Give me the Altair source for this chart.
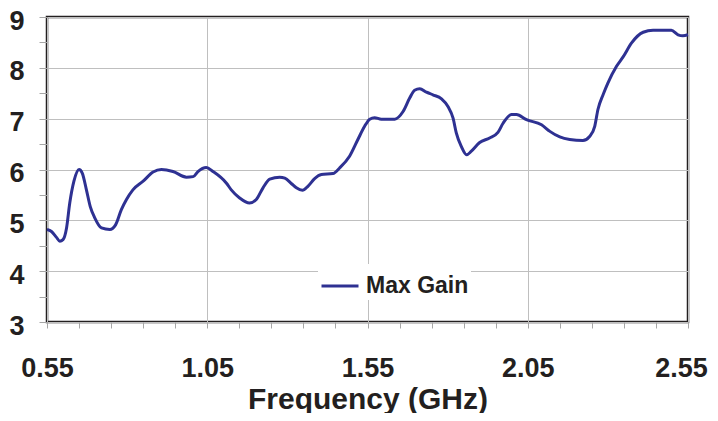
import altair as alt
import pandas as pd

freq = [0.550, 0.564, 0.579, 0.590, 0.600, 0.611, 0.621, 0.634, 0.650, 0.660,
        0.673, 0.685, 0.699, 0.720, 0.746, 0.764, 0.782, 0.798, 0.818, 0.850,
        0.881, 0.907, 0.943, 0.985, 1.006, 1.021, 1.047, 1.068, 1.110, 1.125,
        1.151, 1.182, 1.203, 1.224, 1.245, 1.276, 1.292, 1.313, 1.328, 1.347,
        1.364, 1.385, 1.406, 1.442, 1.463, 1.494, 1.520, 1.541, 1.557, 1.572,
        1.593, 1.635, 1.661, 1.682, 1.697, 1.713, 1.734, 1.754, 1.781, 1.801,
        1.817, 1.827, 1.843, 1.859, 1.874, 1.900, 1.931, 1.957, 1.973, 1.999,
        2.015, 2.046, 2.093, 2.119, 2.150, 2.181, 2.222, 2.243, 2.259, 2.269,
        2.285, 2.300, 2.327, 2.348, 2.374, 2.410, 2.441, 2.498, 2.519, 2.534,
        2.550]
gain = [4.82, 4.78, 4.67, 4.59, 4.62, 4.85, 5.34, 5.77, 6.00, 5.93,
        5.60, 5.27, 5.05, 4.85, 4.82, 4.91, 5.21, 5.41, 5.60, 5.77,
        5.95, 6.00, 5.96, 5.85, 5.86, 5.96, 6.04, 5.96, 5.73, 5.60,
        5.44, 5.34, 5.41, 5.64, 5.81, 5.85, 5.83, 5.72, 5.64, 5.59,
        5.67, 5.82, 5.90, 5.92, 6.03, 6.26, 6.59, 6.85, 6.99, 7.02,
        6.99, 6.99, 7.14, 7.41, 7.56, 7.59, 7.52, 7.47, 7.39, 7.24,
        7.01, 6.72, 6.45, 6.29, 6.36, 6.53, 6.62, 6.73, 6.91, 7.08,
        7.08, 6.98, 6.88, 6.75, 6.64, 6.59, 6.57, 6.65, 6.85, 7.18,
        7.47, 7.70, 8.03, 8.22, 8.49, 8.70, 8.74, 8.74, 8.65, 8.63,
        8.65]
series_name = "Max Gain"
x_ticks = [round(0.55 + 0.1 * i, 2) for i in range(21)]
y_ticks = [3 + 0.5 * i for i in range(13)]

df = pd.DataFrame({"f": freq, "g": gain, "s": series_name})

FONT = "Liberation Sans"
TXT = "#231f20"

chart = alt.Chart(df).mark_line(strokeWidth=3, interpolate="monotone").encode(
    x=alt.X("f:Q",
            scale=alt.Scale(domain=[0.55, 2.55], nice=False, zero=False),
            axis=alt.Axis(values=x_ticks, domain=False, tickSize=6, tickColor="#a6a6a6",
                          tickWidth=1, labelFontSize=27, labelFont=FONT, labelFontWeight="bold",
                          labelColor=TXT, labelFlush=False, labelOverlap=False,
                          labelBaseline="alphabetic", labelPadding=48,
                          labelOffset={"condition": {"test": "datum.value > 2.5", "value": -7}, "value": 0},
                          labelExpr="round((datum.value-0.55)*10) % 5 == 0 ? format(datum.value, '.2f') : ''",
                          gridColor="#bfbfbf", gridWidth=1,
                          gridOpacity={"condition": {"test": "round((datum.value-0.55)*10) % 5 == 0", "value": 1}, "value": 0},
                          title="Frequency (GHz)", titleFont=FONT, titleFontSize=30,
                          titleFontWeight="bold", titleColor=TXT, titleBaseline="alphabetic",
                          titleY=86, titleX=320.5)),
    y=alt.Y("g:Q",
            scale=alt.Scale(domain=[3, 9], nice=False, zero=False),
            axis=alt.Axis(values=y_ticks, domain=False, tickSize=8, tickColor="#a6a6a6",
                          tickWidth=1, labelFontSize=27, labelFont=FONT, labelFontWeight="bold",
                          labelColor=TXT, labelOverlap=False, labelPadding=15,
                          labelBaseline="alphabetic", labelOffset=12,
                          labelExpr="datum.value % 1 == 0 ? format(datum.value, 'd') : ''",
                          gridColor="#bfbfbf", gridWidth=1,
                          gridOpacity={"condition": {"test": "datum.value % 1 == 0", "value": 1}, "value": 0},
                          title=None)),
    color=alt.Color("s:N", scale=alt.Scale(range=["#2e3192"]),
                    legend=alt.Legend(orient="none", legendX=271, legendY=247, title=None,
                                      symbolType="stroke", symbolStrokeWidth=3, symbolSize=1369,
                                      labelFont=FONT, labelFontSize=23, labelFontWeight="bold",
                                      labelColor=TXT, labelOffset=6, fillColor="white",
                                      padding=2)),
).properties(
    width=641, height=305,
    autosize=alt.AutoSizeParams(type="none"),
    padding={"left": 39, "top": 9, "right": 22, "bottom": 91},
).configure_view(stroke=TXT, strokeWidth=2.5)

chart.save("out.html", embed_options={"renderer": "svg", "actions": False})
